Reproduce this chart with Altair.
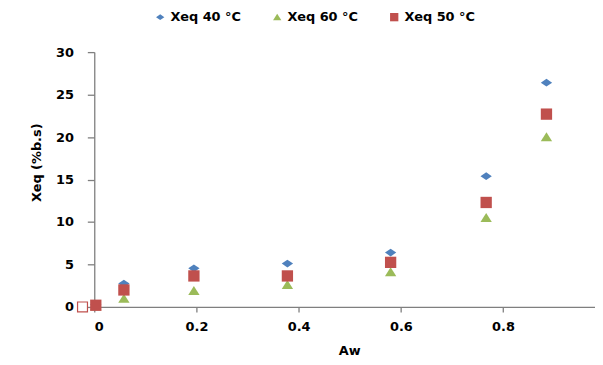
import altair as alt
import pandas as pd

aw = [0.003, 0.058, 0.195, 0.378, 0.58, 0.767, 0.885]
xeq_40 = [0.3, 2.75, 4.55, 5.1, 6.4, 15.4, 26.4]
xeq_60 = [0.1, 1.0, 1.9, 2.6, 4.1, 10.5, 20.0]
xeq_50 = [0.2, 2.0, 3.65, 3.65, 5.25, 12.3, 22.7]

series_names = ["Xeq 40 °C", "Xeq 60 °C", "Xeq 50 °C"]
series_colors = ["#4F81BD", "#9BBB59", "#C0504D"]
series_shapes = [
    "M-1,0L0,-0.68L1,0L0,0.68Z",
    "M-1,0.75L1,0.75L0,-0.85Z",
    "M-1,-1L1,-1L1,1L-1,1Z",
]

# stray hollow marker left of the origin in the original figure
hollow_aw = [-0.023]
hollow_xeq = [0.0]

x_ticks = [0, 0.2, 0.4, 0.6, 0.8]
y_ticks = [0, 5, 10, 15, 20, 25, 30]

rows = []
for name, vals in zip(series_names, [xeq_40, xeq_60, xeq_50]):
    for a, v in zip(aw, vals):
        rows.append({"Aw": a, "Xeq": v, "serie": name})
df = pd.DataFrame(rows)
hollow_df = pd.DataFrame({"Aw": hollow_aw, "Xeq": hollow_xeq})

FONT = "DejaVu Sans"

x_enc = alt.X(
    "Aw:Q",
    scale=alt.Scale(domain=[0, 0.98], nice=False, zero=False),
    axis=alt.Axis(
        values=x_ticks, format="~g", title="Aw", grid=False,
        titleX=257, titleY=44, titleAlign="center", titleBaseline="middle",
        tickSize=5, labelPadding=9,
    ),
)
y_enc = alt.Y(
    "Xeq:Q",
    scale=alt.Scale(domain=[0, 30], nice=False),
    axis=alt.Axis(
        values=y_ticks, title="Xeq (%b.s)", grid=False,
        titleX=-58, titleY=111, titleAngle=-90, titleAlign="center",
        titleBaseline="middle", tickSize=7, labelPadding=14,
    ),
)

points = alt.Chart(df).mark_point(filled=True, opacity=1, size=130).encode(
    x=x_enc,
    y=y_enc,
    color=alt.Color(
        "serie:N",
        scale=alt.Scale(domain=series_names, range=series_colors),
        legend=alt.Legend(
            title=None, orient="none", direction="horizontal",
            legendX=60, legendY=-42, symbolSize=70, columnPadding=30,
            labelFont=FONT, labelFontSize=13, labelFontWeight="bold",
            labelColor="#000000", labelOffset=4,
        ),
    ),
    shape=alt.Shape(
        "serie:N",
        scale=alt.Scale(domain=series_names, range=series_shapes),
        legend=None,
    ),
    order=alt.Order("order:Q"),
).transform_calculate(
    order="indexof(['Xeq 40 °C','Xeq 60 °C','Xeq 50 °C'], datum.serie)"
)

hollow = alt.Chart(hollow_df).mark_point(
    shape="square", filled=True, fill="white", stroke="#C0504D",
    strokeWidth=1.2, size=100, opacity=1,
).encode(x="Aw:Q", y="Xeq:Q")

chart = alt.layer(hollow, points).properties(
    width=505, height=257,
    autosize=alt.AutoSizeParams(type="none"),
    padding={"left": 87, "top": 43, "right": 0, "bottom": 50},
).configure_view(stroke=None).configure_axis(
    labelFont=FONT, labelFontSize=13, labelFontWeight="bold", labelColor="#000000",
    titleFont=FONT, titleFontSize=13, titleFontWeight="bold", titleColor="#000000",
    domainColor="#7f7f7f", tickColor="#7f7f7f", domainWidth=1.3, tickWidth=1.3,
)

chart.save("out.html", embed_options={"renderer": "svg", "actions": False})
